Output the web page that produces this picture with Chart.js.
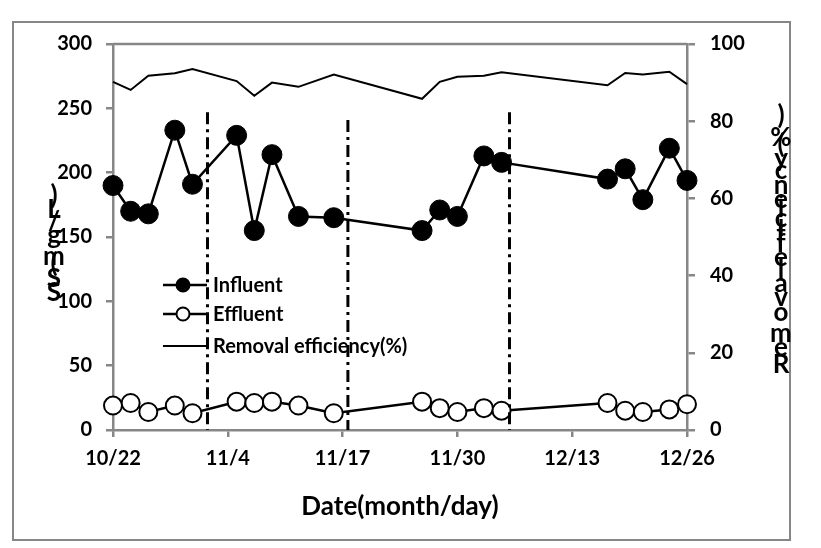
<!DOCTYPE html>
<html>
<head>
<meta charset="utf-8">
<script src="https://cdn.jsdelivr.net/npm/chart.js@4"></script>
<style>
  body { margin: 0; background: #fff; }
  #wrap { width: 821px; height: 548px; }
</style>
</head>
<body>
<div id="wrap"><canvas id="chart" width="821" height="548"></canvas></div>
<script>
// sampling dates (month/day)
const dates = ['10/22','10/24','10/26','10/29','10/31','11/5','11/7','11/9','11/12','11/16',
               '11/26','11/28','11/30','12/3','12/5','12/17','12/19','12/21','12/24','12/26'];
const influent = [190,170,168,233,191,229,155,214,166,165,155,171,166,213,208,195,203,179,219,194];
const effluent = [19,21,14,19,13,22,21,22,19,13,22,17,14,17,15,21,15,14,16,20];
const removal = [90.2,88.1,91.8,92.4,93.5,90.4,86.6,90.0,88.9,92.1,85.8,90.2,91.5,91.8,92.7,89.3,92.5,92.1,92.8,89.6];

const xTickLabels = ['10/22','11/4','11/17','11/30','12/13','12/26'];
const legendLabels = ['Influent','Effluent','Removal efficiency(%)'];
// dash-dot period dividers (day offset from 10/22, top in mg/L)
const dividerDays = [10.7, 26.6, 44.9];
const dividerTops = [247, 241, 247];

const leftTitle = 'SS(mg/L)';
const rightTitle = 'Removal efficiency(%)';
const xTitle = 'Date(month/day)';

const FONT = 'Lato, "Open Sans", sans-serif';
const GREY = '#878787';

function dayOf(md){
    const [m, d] = md.split('/').map(Number);
    return Math.round((new Date(2012, m - 1, d) - new Date(2012, 9, 22)) / 864e5);
}
const days = dates.map(dayOf);
const pts = arr => arr.map((v, i) => ({x: days[i], y: v}));

// frame, top border, stacked axis titles, legend, dividers
const extras = {
    id: 'extras',
    beforeDraw(chart){
        const ctx = chart.ctx;
        ctx.save();
        ctx.strokeStyle = GREY;
        ctx.lineWidth = 2;
        ctx.strokeRect(13, 22, 777, 518);
        ctx.restore();
    },
    afterDatasetsDraw(chart){
        const ctx = chart.ctx;
        const a = chart.chartArea;
        const x = chart.scales.x, y = chart.scales.y;
        ctx.save();

        // top edge of plot box
        ctx.strokeStyle = GREY;
        ctx.lineWidth = 2.5;
        ctx.beginPath();
        ctx.moveTo(a.left, a.top);
        ctx.lineTo(a.right, a.top);
        ctx.stroke();

        // stacked axis titles
        ctx.fillStyle = '#000';
        ctx.font = 'bold 26px ' + FONT;
        ctx.textAlign = 'center';
        ctx.textBaseline = 'alphabetic';
        function stack(text, cx, bottom){
            let yy = bottom;
            for (const ch of text){
                ctx.fillText(ch, cx, yy);
                yy -= ctx.measureText(ch).width;
            }
        }
        stack(leftTitle, 54, 301);
        stack(rightTitle, 781, 373);

        // legend
        ctx.font = 'bold 20px ' + FONT;
        ctx.textAlign = 'left';
        ctx.textBaseline = 'middle';
        const rows = [285, 314, 346];
        rows.forEach((ry, i) => {
            ctx.strokeStyle = '#000';
            ctx.lineWidth = i < 2 ? 2.5 : 2;
            ctx.beginPath();
            ctx.moveTo(163, ry);
            ctx.lineTo(207, ry);
            ctx.stroke();
            if (i < 2){
                ctx.beginPath();
                ctx.arc(183, ry, 6.5, 0, Math.PI * 2);
                ctx.fillStyle = i === 0 ? '#000' : '#fff';
                ctx.fill();
                ctx.lineWidth = 2;
                ctx.stroke();
            }
            ctx.fillStyle = '#000';
            ctx.fillText(legendLabels[i], 213, ry + 1);
        });

        // dash-dot dividers
        ctx.strokeStyle = '#000';
        ctx.lineWidth = 3;
        ctx.setLineDash([12, 5, 3, 5]);
        dividerDays.forEach((d, i) => {
            const px = x.getPixelForValue(d);
            ctx.beginPath();
            ctx.moveTo(px, y.getPixelForValue(dividerTops[i]));
            ctx.lineTo(px, y.getPixelForValue(0));
            ctx.stroke();
        });
        ctx.restore();
    }
};

new Chart(document.getElementById('chart'), {
    type: 'line',
    data: {
        datasets: [
            {
                label: legendLabels[0], data: pts(influent), yAxisID: 'y',
                borderColor: '#000', borderWidth: 2.5,
                pointRadius: 10, pointBackgroundColor: '#000', pointBorderColor: '#000', pointBorderWidth: 1,
                clip: false
            },
            {
                label: legendLabels[1], data: pts(effluent), yAxisID: 'y',
                borderColor: '#000', borderWidth: 2.5,
                pointRadius: 9, pointBackgroundColor: '#fff', pointBorderColor: '#000', pointBorderWidth: 2,
                clip: false
            },
            {
                label: legendLabels[2], data: pts(removal), yAxisID: 'y2',
                borderColor: '#000', borderWidth: 2, pointRadius: 0,
                clip: false
            }
        ]
    },
    options: {
        responsive: false,
        animation: false,
        layout: { padding: { top: 44, left: 0, right: 0, bottom: 0 } },
        plugins: { legend: { display: false }, tooltip: { enabled: false } },
        scales: {
            x: {
                type: 'linear', min: 0, max: 65,
                afterFit: s => { s.height = 118; },
                afterBuildTicks: s => { s.ticks = xTickLabels.map((t, i) => ({value: i * 13})); },
                ticks: {
                    color: '#000', font: { family: FONT, size: 20, weight: 'bold' }, padding: 10,
                    maxRotation: 0, autoSkip: false,
                    callback: (v, i) => xTickLabels[i]
                },
                grid: { drawOnChartArea: false, color: GREY, lineWidth: 2.5, tickLength: 7 },
                border: { color: GREY, width: 2.5 },
                title: {
                    display: true, text: xTitle, color: '#000',
                    font: { family: FONT, size: 26, weight: 'bold' },
                    padding: { top: 0, bottom: 26 }
                }
            },
            y: {
                position: 'left', min: 0, max: 300,
                afterFit: s => { s.width = 113; },
                ticks: { stepSize: 50, color: '#000', font: { family: FONT, size: 20, weight: 'bold' }, padding: 14 },
                grid: { drawOnChartArea: false, color: GREY, lineWidth: 2.5, tickLength: 7 },
                border: { color: GREY, width: 2.5 }
            },
            y2: {
                position: 'right', min: 0, max: 100,
                afterFit: s => { s.width = 134; },
                ticks: { stepSize: 20, color: '#000', font: { family: FONT, size: 20, weight: 'bold' }, padding: 15 },
                grid: { drawOnChartArea: false, color: GREY, lineWidth: 2.5, tickLength: 8 },
                border: { color: GREY, width: 2.5 }
            }
        }
    },
    plugins: [extras]
});
</script>
</body>
</html>
